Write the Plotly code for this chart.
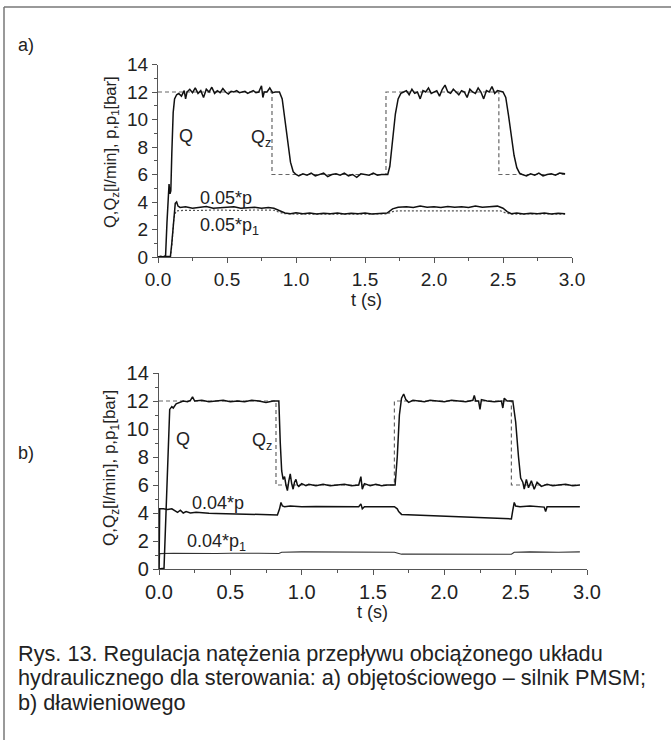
import plotly.graph_objects as go

W, H = 671, 740

# ---------------- DATA ----------------
# Panel a) volumetric control
A_QZ = [(0, 12), (0.826, 12), (0.826, 6), (1.652, 6), (1.652, 12), (2.47, 12), (2.47, 6), (2.95, 6)]
A_Q = [(0.00, 0.0), (0.02, 0.05), (0.04, 0.0), (0.055, 0.1), (0.065, 2.5), (0.075, 5.0), (0.08, 5.3),
       (0.087, 4.6), (0.093, 4.8), (0.10, 7.5), (0.11, 10.5), (0.12, 11.5), (0.135, 11.8), (0.15, 11.9),
       (0.17, 11.7), (0.19, 12.1), (0.20, 11.5), (0.21, 12.0), (0.23, 12.2), (0.25, 11.95), (0.27, 12.3),
       (0.29, 11.9), (0.31, 12.1), (0.33, 11.6), (0.35, 12.2), (0.37, 12.0), (0.39, 12.35), (0.41, 11.9),
       (0.43, 12.1), (0.45, 11.95), (0.47, 12.25), (0.49, 12.0), (0.51, 11.85), (0.53, 12.05), (0.55, 12.0),
       (0.57, 12.1), (0.59, 11.95), (0.61, 12.0), (0.63, 12.05), (0.65, 11.9), (0.67, 12.0), (0.69, 12.1),
       (0.71, 11.95), (0.73, 12.0), (0.75, 12.45), (0.76, 11.6), (0.77, 12.0), (0.79, 12.0), (0.81, 12.3),
       (0.83, 11.95), (0.85, 12.0), (0.88, 12.0), (0.90, 11.5), (0.92, 10.0), (0.94, 8.2), (0.96, 6.9),
       (0.98, 6.2), (1.00, 6.0), (1.02, 5.9), (1.05, 6.05), (1.08, 5.95), (1.11, 6.1), (1.14, 5.9),
       (1.17, 6.0), (1.20, 6.1), (1.23, 5.85), (1.26, 6.0), (1.29, 6.05), (1.32, 5.95), (1.35, 6.1),
       (1.38, 5.9), (1.41, 6.0), (1.44, 5.8), (1.47, 6.05), (1.50, 6.0), (1.53, 5.95), (1.56, 6.1),
       (1.59, 5.95), (1.62, 6.0), (1.665, 6.0), (1.68, 6.6), (1.70, 8.5), (1.72, 10.4), (1.74, 11.5),
       (1.76, 11.9), (1.78, 12.0), (1.80, 12.1), (1.82, 11.8), (1.84, 12.2), (1.86, 11.9), (1.88, 12.0),
       (1.90, 11.5), (1.92, 12.1), (1.94, 12.0), (1.96, 12.3), (1.98, 11.9), (2.00, 12.0), (2.02, 12.1),
       (2.04, 11.7), (2.06, 12.2), (2.08, 12.5), (2.10, 12.0), (2.12, 11.9), (2.14, 12.2), (2.16, 12.0),
       (2.18, 11.8), (2.20, 12.1), (2.22, 12.0), (2.24, 11.6), (2.26, 12.2), (2.28, 12.0), (2.30, 11.9),
       (2.32, 12.3), (2.34, 12.0), (2.36, 11.5), (2.38, 12.1), (2.40, 12.0), (2.42, 12.4), (2.44, 11.9),
       (2.46, 12.1), (2.50, 12.0), (2.52, 11.6), (2.54, 10.3), (2.56, 8.8), (2.58, 7.4), (2.60, 6.5),
       (2.62, 6.1), (2.64, 6.0), (2.67, 5.9), (2.70, 6.05), (2.73, 5.95), (2.76, 6.1), (2.79, 5.9),
       (2.82, 6.0), (2.85, 6.05), (2.88, 5.95), (2.91, 6.1), (2.95, 6.05)]
A_P = [(0.0, 0.0), (0.05, 0.0), (0.09, 0.05), (0.10, 1.0), (0.115, 3.0), (0.125, 3.9), (0.135, 4.0),
       (0.145, 3.7), (0.16, 3.6), (0.20, 3.65), (0.25, 3.55), (0.30, 3.6), (0.35, 3.68), (0.40, 3.55),
       (0.45, 3.6), (0.50, 3.62), (0.55, 3.65), (0.60, 3.55), (0.65, 3.6), (0.70, 3.62), (0.75, 3.55),
       (0.80, 3.6), (0.84, 3.55), (0.88, 3.35), (0.92, 3.2), (0.96, 3.15), (1.00, 3.22), (1.05, 3.15),
       (1.10, 3.2), (1.15, 3.12), (1.20, 3.18), (1.25, 3.15), (1.30, 3.2), (1.35, 3.12), (1.40, 3.18),
       (1.45, 3.15), (1.50, 3.2), (1.55, 3.13), (1.60, 3.17), (1.66, 3.2), (1.70, 3.5), (1.74, 3.62),
       (1.80, 3.65), (1.85, 3.6), (1.90, 3.7), (1.95, 3.62), (2.00, 3.65), (2.05, 3.6), (2.10, 3.68),
       (2.15, 3.62), (2.20, 3.66), (2.25, 3.6), (2.30, 3.7), (2.35, 3.62), (2.40, 3.66), (2.46, 3.7),
       (2.50, 3.55), (2.53, 3.3), (2.56, 3.15), (2.60, 3.2), (2.65, 3.12), (2.70, 3.18), (2.75, 3.15),
       (2.80, 3.2), (2.85, 3.12), (2.90, 3.18), (2.95, 3.15)]
A_P1 = [(0.0, 0.0), (0.09, 0.0), (0.10, 0.8), (0.115, 2.8), (0.13, 3.35), (0.20, 3.4), (0.30, 3.38),
        (0.40, 3.42), (0.50, 3.4), (0.60, 3.38), (0.70, 3.42), (0.84, 3.4), (0.88, 3.25), (0.92, 3.15),
        (1.00, 3.12), (1.20, 3.14), (1.40, 3.12), (1.66, 3.13), (1.70, 3.3), (1.74, 3.36), (1.90, 3.35),
        (2.10, 3.37), (2.30, 3.35), (2.48, 3.36), (2.52, 3.2), (2.56, 3.12), (2.75, 3.13), (2.95, 3.12)]

# Panel b) throttle control
B_QZ = [(0, 12), (0.82, 12), (0.82, 6), (1.65, 6), (1.65, 12), (2.47, 12), (2.47, 6), (2.95, 6)]
B_Q = [(0.0, 0.0), (0.03, 0.05), (0.035, 0.0), (0.045, 3.0), (0.06, 8.0), (0.075, 11.4), (0.09, 11.6),
       (0.10, 11.5), (0.12, 11.8), (0.14, 11.9), (0.17, 12.0), (0.20, 11.95), (0.22, 12.05), (0.235, 12.3),
       (0.25, 12.0), (0.30, 12.05), (0.35, 11.95), (0.40, 12.0), (0.45, 12.05), (0.50, 11.95), (0.55, 12.0),
       (0.60, 11.95), (0.65, 12.05), (0.70, 12.0), (0.75, 11.9), (0.80, 12.0), (0.84, 12.0), (0.85, 9.0),
       (0.86, 7.0), (0.87, 6.4), (0.88, 6.6), (0.89, 6.0), (0.90, 5.6), (0.91, 6.3), (0.92, 6.8),
       (0.93, 6.1), (0.94, 5.7), (0.95, 6.2), (0.96, 6.4), (0.97, 6.0), (0.98, 5.9), (1.00, 6.1),
       (1.03, 5.95), (1.05, 6.05), (1.10, 5.95), (1.15, 6.05), (1.20, 5.95), (1.25, 6.0), (1.30, 6.05),
       (1.35, 5.95), (1.40, 6.0), (1.415, 6.6), (1.425, 5.7), (1.44, 6.1), (1.48, 5.95), (1.52, 6.05),
       (1.56, 5.95), (1.60, 6.0), (1.655, 6.0), (1.67, 8.0), (1.685, 11.0), (1.70, 12.2), (1.715, 12.5),
       (1.73, 12.1), (1.75, 11.9), (1.78, 12.05), (1.82, 12.0), (1.86, 11.95), (1.90, 12.05), (1.95, 12.0),
       (2.00, 11.95), (2.05, 12.05), (2.10, 12.0), (2.15, 11.95), (2.20, 12.05), (2.21, 12.4), (2.22, 12.0),
       (2.24, 12.0), (2.25, 11.4), (2.26, 12.1), (2.30, 12.0), (2.35, 11.95), (2.40, 12.0), (2.41, 11.5),
       (2.42, 12.2), (2.44, 12.0), (2.48, 12.0), (2.50, 10.5), (2.52, 8.0), (2.535, 6.5), (2.55, 6.2),
       (2.56, 5.7), (2.575, 6.4), (2.59, 5.8), (2.61, 6.3), (2.63, 5.7), (2.65, 6.2), (2.68, 5.9),
       (2.72, 6.05), (2.76, 5.95), (2.80, 6.0), (2.85, 6.05), (2.90, 5.95), (2.95, 6.0)]
B_P = [(0.0, 0.0), (0.005, 4.3), (0.03, 4.3), (0.06, 4.25), (0.09, 4.3), (0.11, 4.2), (0.13, 4.05),
       (0.15, 4.2), (0.17, 4.0), (0.19, 4.1), (0.22, 4.0), (0.26, 4.05), (0.30, 4.0), (0.35, 3.98),
       (0.40, 3.97), (0.45, 3.96), (0.50, 3.95), (0.55, 3.93), (0.60, 3.92), (0.65, 3.9), (0.70, 3.9),
       (0.75, 3.88), (0.80, 3.87), (0.83, 3.86), (0.845, 4.3), (0.855, 4.75), (0.865, 4.5), (0.88, 4.45),
       (0.92, 4.5), (0.96, 4.45), (1.00, 4.45), (1.10, 4.47), (1.20, 4.45), (1.30, 4.46), (1.40, 4.45),
       (1.415, 4.65), (1.425, 4.3), (1.44, 4.45), (1.50, 4.46), (1.60, 4.45), (1.65, 4.45), (1.67, 4.3),
       (1.68, 4.1), (1.70, 3.9), (1.75, 3.88), (1.80, 3.85), (1.85, 3.84), (1.90, 3.82), (1.95, 3.8),
       (2.00, 3.78), (2.05, 3.76), (2.10, 3.74), (2.15, 3.72), (2.20, 3.7), (2.25, 3.68), (2.30, 3.66),
       (2.35, 3.64), (2.40, 3.62), (2.45, 3.6), (2.47, 3.58), (2.48, 4.2), (2.49, 4.75), (2.50, 4.5),
       (2.53, 4.45), (2.60, 4.5), (2.65, 4.45), (2.70, 4.42), (2.71, 4.1), (2.72, 4.45), (2.80, 4.45),
       (2.88, 4.47), (2.95, 4.45)]
B_P1 = [(0.0, 0.0), (0.005, 1.1), (0.10, 1.12), (0.20, 1.1), (0.30, 1.13), (0.40, 1.11), (0.50, 1.12),
        (0.60, 1.1), (0.70, 1.12), (0.84, 1.11), (0.86, 1.2), (1.00, 1.22), (1.20, 1.2), (1.40, 1.22),
        (1.65, 1.2), (1.70, 1.06), (1.90, 1.05), (2.10, 1.07), (2.30, 1.05), (2.47, 1.05), (2.49, 1.2),
        (2.60, 1.22), (2.80, 1.2), (2.95, 1.22)]

X_TICKS = [0.0, 0.5, 1.0, 1.5, 2.0, 2.5, 3.0]
X_TICK_LABELS = ["0.0", "0.5", "1.0", "1.5", "2.0", "2.5", "3.0"]
Y_TICKS = [0, 2, 4, 6, 8, 10, 12, 14]

CAPTION = ["Rys. 13. Regulacja natężenia przepływu obciążonego układu",
           "hydraulicznego dla sterowania: a) objętościowego – silnik PMSM;",
           "b) dławieniowego"]

FONT = "Liberation Sans, Arial, sans-serif"
TXT = "#222222"
AX = "#555555"


def px(x):
    return x / W


def py(y):
    return 1 - y / H


def unzip(pairs):
    return [p[0] for p in pairs], [p[1] for p in pairs]


fig = go.Figure()


def add_series(pairs, xa, ya, dash="solid", color="#111111", width=1.5):
    t, v = unzip(pairs)
    fig.add_trace(go.Scatter(x=t, y=v, mode="lines", xaxis=xa, yaxis=ya,
                             line=dict(color=color, width=width, dash=dash),
                             showlegend=False, hoverinfo="skip"))


# panel a
add_series(A_QZ, "x", "y", dash="4px,3px", color="#666666", width=1.2)
add_series(A_P1, "x", "y", dash="2px,2px", color="#555555", width=1.2)
add_series(A_P, "x", "y")
add_series(A_Q, "x", "y")
# panel b
add_series(B_QZ, "x2", "y2", dash="4px,3px", color="#666666", width=1.2)
add_series(B_P1, "x2", "y2", color="#333333", width=1.1)
add_series(B_P, "x2", "y2")
add_series(B_Q, "x2", "y2")


def axis_common(size):
    return dict(showline=True, linecolor=AX, linewidth=1.3, mirror=False, showgrid=False,
                zeroline=False, ticks="outside", ticklen=5, tickcolor=AX, tickwidth=1.2,
                tickfont=dict(family=FONT, size=size, color=TXT))


# panel a geometry (pixels): x 0->158, 3->572 ; y 0->257, 14->64.5
# panel b geometry: x 0->159, 3->587 ; y 0->569, 14->373
fig.update_layout(
    width=W, height=H, margin=dict(l=0, r=0, t=0, b=0, autoexpand=False),
    paper_bgcolor="white", plot_bgcolor="white",
    xaxis=dict(domain=[px(158), px(572)], range=[0, 3], anchor="y", tickvals=X_TICKS,
               ticktext=X_TICK_LABELS, minor=dict(ticks="outside", ticklen=3, dtick=0.25,
                                                  tickcolor=AX, tick0=0), **axis_common(19)),
    yaxis=dict(domain=[py(257), py(64.5)], range=[0, 14], anchor="x", tickvals=Y_TICKS,
               minor=dict(ticks="outside", ticklen=3, dtick=1, tickcolor=AX, tick0=0), **axis_common(19)),
    xaxis2=dict(domain=[px(159), px(587)], range=[0, 3], anchor="y2", tickvals=X_TICKS,
                ticktext=X_TICK_LABELS, minor=dict(ticks="outside", ticklen=3, dtick=0.25,
                                                   tickcolor=AX, tick0=0), **axis_common(20)),
    yaxis2=dict(domain=[py(569), py(373)], range=[0, 14], anchor="x2", tickvals=Y_TICKS,
                minor=dict(ticks="outside", ticklen=3, dtick=1, tickcolor=AX, tick0=0), **axis_common(20)),
)

ann = []


def text(x, y, s, size=18, xanchor="center", yanchor="middle", angle=0):
    ann.append(dict(x=px(x), y=py(y), xref="paper", yref="paper", text=s, showarrow=False,
                    xanchor=xanchor, yanchor=yanchor, textangle=angle,
                    font=dict(family=FONT, size=size, color=TXT)))


# panel labels
text(16, 45, "a)", xanchor="left")
text(16, 453, "b)", xanchor="left")
# y titles
ytitle = "Q,Q<sub>z</sub>[l/min], p,p<sub>1</sub>[bar]"
text(111, 152, ytitle, size=16.5, angle=-90)
text(111, 468, ytitle, size=17, angle=-90)
# x titles
text(366, 300, "t (s)")
text(372, 612, "t (s)")
# curve labels a
text(186, 136, "Q")
text(261, 138, "Q<sub>z</sub>")
text(226, 198, "0.05*p")
text(229, 226, "0.05*p<sub>1</sub>")
# curve labels b
text(183, 439, "Q")
text(262, 441, "Q<sub>z</sub>")
text(218, 503, "0.04*p")
text(216, 542, "0.04*p<sub>1</sub>")
# caption
for i, line in enumerate(CAPTION):
    text(16, 653 + 24.5 * i, line, size=21.7, xanchor="left")

fig.update_layout(annotations=ann)

# frame lines
fig.add_shape(type="line", xref="paper", yref="paper", x0=px(4), y0=py(7), x1=1, y1=py(7),
              line=dict(color="#777777", width=1.5))
fig.add_shape(type="line", xref="paper", yref="paper", x0=px(4), y0=py(7), x1=px(4), y1=0,
              line=dict(color="#777777", width=1.5))

fig.write_html("out.html",
               post_script="document.body.style.margin='0px';document.body.style.padding='0px';")
